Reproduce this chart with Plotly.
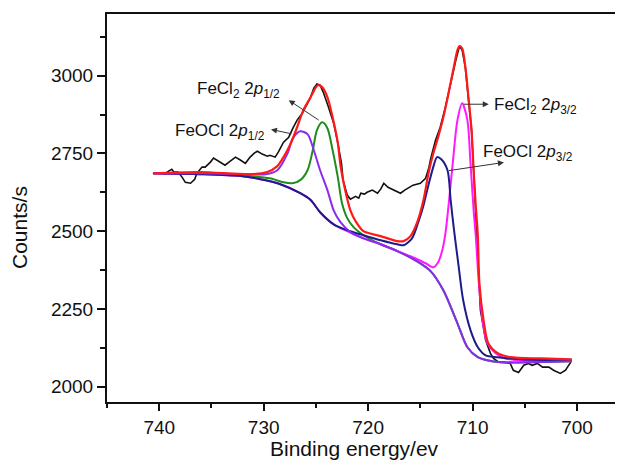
import plotly.graph_objects as go

# ---------------- data (binding energy in eV, counts/s) ----------------
exp_be = [740.6, 739.9, 739.4, 739.1, 738.8, 738.6, 738.2, 737.8, 737.5, 737.0, 736.6, 736.4,
          735.9, 735.6, 735.1, 734.8, 734.3, 733.7, 733.2, 732.7, 732.2, 731.75, 731.3, 730.9,
          730.6, 730.1, 729.65, 729.4, 728.9, 728.6, 728.1, 727.6, 727.2, 726.8, 726.3, 725.8,
          725.5, 725.2, 724.9, 724.6, 724.3, 723.8, 723.3, 722.9, 722.55, 722.4, 722.0, 721.7,
          721.2, 720.9, 720.7, 720.35, 720.1, 719.6, 719.1, 718.8, 718.5, 718.1, 717.6, 716.9,
          716.5, 716.2, 715.7, 715.0, 714.5, 714.2, 714.0, 713.55, 713.1, 712.6, 712.1, 711.6,
          711.25, 711.0, 710.7, 710.4, 710.1, 709.9, 709.7, 709.5, 709.25, 708.75, 708.3, 708.0,
          707.5, 707.0, 706.4, 706.1, 705.6, 705.1, 704.65, 704.3, 703.8, 703.3, 702.7, 702.25,
          701.6, 701.1, 700.6]
exp_counts = [2686, 2686, 2686, 2693, 2699, 2690, 2690, 2673, 2657, 2654, 2667, 2686,
              2706, 2706, 2722, 2735, 2725, 2712, 2725, 2738, 2728, 2718, 2738, 2751,
              2757, 2747, 2741, 2744, 2738, 2754, 2786, 2802, 2831, 2857, 2879, 2911,
              2931, 2960, 2973, 2969, 2947, 2899, 2847, 2783, 2718, 2664, 2616, 2603,
              2612, 2606, 2622, 2619, 2625, 2632, 2622, 2635, 2654, 2641, 2632, 2622,
              2632, 2638, 2648, 2654, 2670, 2702, 2735, 2792, 2834, 2899, 2976, 3050,
              3095, 3082, 3027, 2931, 2825, 2696, 2567, 2407, 2246, 2149, 2108, 2091,
              2079, 2079, 2075, 2053, 2046, 2069, 2075, 2069, 2075, 2063, 2063, 2053,
              2043, 2053, 2079]

env_be = [740.6, 736.1, 731.3, 729.65, 728.7, 728.1, 727.4, 726.8, 726.2, 725.5, 725.05, 724.8,
          724.4, 723.9, 723.4, 722.9, 722.65, 722.2, 721.7, 721.2, 720.45, 718.8, 717.2, 716.6,
          715.95, 715.3, 714.7, 714.2, 713.75, 713.3, 712.8, 712.3, 711.8, 711.45, 711.25, 711.0,
          710.7, 710.4, 710.1, 709.9, 709.7, 709.5, 709.35, 708.95, 708.5, 707.6, 706.4, 703.5, 700.5]
env_counts = [2686, 2690, 2683, 2690, 2709, 2738, 2783, 2834, 2889, 2931, 2960, 2969,
              2963, 2931, 2866, 2783, 2712, 2632, 2567, 2532, 2500, 2484, 2468, 2468,
              2484, 2529, 2600, 2690, 2751, 2802, 2866, 2944, 3027, 3082, 3095, 3088,
              3030, 2931, 2825, 2696, 2583, 2487, 2333, 2214, 2140, 2108, 2095, 2091, 2088]

feocl32_be = [740.6, 736.1, 732.2, 730.3, 728.4, 726.5, 725.5, 724.6, 723.3, 722.0, 720.45, 718.8,
              717.2, 716.6, 715.8, 715.2, 714.7, 714.3, 713.8, 713.4, 713.0, 712.4, 712.1, 711.8,
              711.35, 710.9, 710.2, 709.5, 708.75, 707.6, 705.4, 700.5]
feocl32_counts = [2686, 2683, 2677, 2667, 2651, 2622, 2600, 2561, 2522, 2503, 2487, 2471,
                  2458, 2455, 2477, 2529, 2583, 2638, 2702, 2738, 2731, 2696, 2600, 2510,
                  2391, 2278, 2182, 2127, 2101, 2095, 2088, 2085]

feocl12_be = [740.6, 736.1, 731.3, 729.8, 728.7, 727.7, 727.2, 726.5, 725.8, 725.2, 724.6, 723.9,
              723.3, 722.65, 721.7, 720.45, 718.8, 717.2, 715.3, 714.0, 712.8, 711.45, 710.5,
              709.5, 708.6, 707.3, 700.5]
feocl12_counts = [2686, 2686, 2683, 2683, 2696, 2751, 2799, 2821, 2812, 2760, 2696, 2632,
                  2567, 2529, 2497, 2477, 2458, 2436, 2403, 2371, 2310, 2204, 2127,
                  2095, 2085, 2079, 2082]

fecl12_be = [740.6, 736.1, 731.3, 729.4, 728.1, 727.25, 726.5, 725.8, 725.3, 724.9, 724.4, 723.9,
             723.4, 722.9, 722.5, 722.0, 721.4, 720.45, 718.8, 717.2, 715.3, 714.0, 712.8,
             711.45, 710.5, 709.5, 708.6, 707.3, 700.5]
fecl12_counts = [2686, 2686, 2677, 2670, 2657, 2654, 2664, 2696, 2760, 2825, 2850, 2831,
                 2760, 2673, 2590, 2542, 2513, 2487, 2458, 2436, 2403, 2371, 2310,
                 2204, 2127, 2095, 2085, 2079, 2082]

fecl32_be = [740.6, 736.1, 732.2, 730.3, 728.4, 726.5, 725.5, 724.6, 723.3, 722.0, 720.45, 718.8,
             717.2, 715.5, 714.5, 713.75, 713.3, 712.9, 712.6, 712.3, 711.9, 711.45, 711.0,
             710.5, 710.2, 709.9, 709.7, 709.4, 709.05, 708.6, 707.8, 706.85, 705.4, 700.5]
fecl32_counts = [2686, 2683, 2677, 2667, 2651, 2622, 2600, 2561, 2522, 2500, 2477, 2458,
                 2436, 2413, 2397, 2384, 2400, 2439, 2493, 2583, 2718, 2857, 2911,
                 2857, 2718, 2567, 2487, 2333, 2214, 2140, 2108, 2091, 2085, 2085]

x_tick_vals = [740, 730, 720, 710, 700]
x_tick_text = ["740", "730", "720", "710", "700"]
y_tick_vals = [2000, 2250, 2500, 2750, 3000]
y_tick_text = ["2000", "2250", "2500", "2750", "3000"]

FONT = "Arial, Liberation Sans, Helvetica, sans-serif"

fig = go.Figure()

fig.add_trace(go.Scatter(x=exp_be, y=exp_counts, mode="lines",
                         line=dict(color="#111111", width=1.6), name="Raw"))
fig.add_trace(go.Scatter(x=fecl12_be, y=fecl12_counts, mode="lines",
                         line=dict(color="#1E8C1E", width=2, shape="spline", smoothing=0.8),
                         name="FeCl2 2p1/2"))
fig.add_trace(go.Scatter(x=fecl32_be, y=fecl32_counts, mode="lines",
                         line=dict(color="#FF1AFF", width=2, shape="spline", smoothing=0.8),
                         name="FeCl2 2p3/2"))
fig.add_trace(go.Scatter(x=feocl32_be, y=feocl32_counts, mode="lines",
                         line=dict(color="#1C1C8C", width=2, shape="spline", smoothing=0.8),
                         name="FeOCl 2p3/2"))
fig.add_trace(go.Scatter(x=feocl12_be, y=feocl12_counts, mode="lines",
                         line=dict(color="#8C2BF0", width=2, shape="spline", smoothing=0.8),
                         name="FeOCl 2p1/2"))
fig.add_trace(go.Scatter(x=env_be, y=env_counts, mode="lines",
                         line=dict(color="#FF1A1A", width=2.2, shape="spline", smoothing=0.8),
                         name="Envelope"))

ann_font = dict(family=FONT, size=17, color="#111111")
arrow_kw = dict(showarrow=True, arrowhead=2, arrowsize=1.2, arrowwidth=1,
                arrowcolor="#333333", axref="x", ayref="y", text="", standoff=0, startstandoff=0)

annotations = [
    dict(x=728.2, y=2953, text="FeCl<sub>2</sub> 2<i>p</i><sub>1/2</sub>", showarrow=False,
         xanchor="right", yanchor="middle", font=ann_font),
    dict(x=729.65, y=2818, text="FeOCl 2<i>p</i><sub>1/2</sub>", showarrow=False,
         xanchor="right", yanchor="middle", font=ann_font),
    dict(x=708.1, y=2902, text="FeCl<sub>2</sub> 2<i>p</i><sub>3/2</sub>", showarrow=False,
         xanchor="left", yanchor="middle", font=ann_font),
    dict(x=709.24, y=2751, text="FeOCl 2<i>p</i><sub>3/2</sub>", showarrow=False,
         xanchor="left", yanchor="middle", font=ann_font),
    dict(x=727.6, y=2921, ax=724.6, ay=2854, **arrow_kw),
    dict(x=729.3, y=2827, ax=727.2, ay=2812, **arrow_kw),
    dict(x=708.45, y=2908, ax=711.0, ay=2908, **arrow_kw),
    dict(x=707.0, y=2721, ax=712.4, ay=2694, **arrow_kw),
    # axis titles
    dict(xref="paper", yref="paper", x=-0.1686, y=0.4485, text="Counts/s", textangle=-90,
         showarrow=False, xanchor="center", yanchor="middle",
         font=dict(family=FONT, size=21, color="#111111")),
    dict(xref="paper", yref="paper", x=0.4806, y=-0.1211, text="Binding energy/ev",
         showarrow=False, xanchor="center", yanchor="middle",
         font=dict(family=FONT, size=21, color="#111111")),
]

# the page body adds an 8px offset, so the figure is 8px smaller and margins compensate
fig.update_layout(
    width=615, height=457,
    margin=dict(l=99, r=0, t=6, b=63, autoexpand=False),
    paper_bgcolor="white", plot_bgcolor="white",
    showlegend=False,
    font=dict(family=FONT, size=19, color="#111111"),
    annotations=annotations,
)

fig.update_xaxes(
    range=[745, 695.6], showgrid=False, zeroline=False, automargin=False,
    showline=True, linecolor="#111111", linewidth=2, mirror=True,
    ticks="outside", ticklen=7, tickwidth=2, tickcolor="#111111",
    tickvals=x_tick_vals, ticktext=x_tick_text, tickfont=dict(size=19),
    minor=dict(ticks="outside", ticklen=4, tickwidth=2, tickcolor="#111111", dtick=5, tick0=700),
)
fig.update_yaxes(
    range=[1951, 3198], showgrid=False, zeroline=False, automargin=False,
    showline=True, linecolor="#111111", linewidth=2, mirror=False,
    ticks="outside", ticklen=8, tickwidth=2, tickcolor="#111111",
    tickvals=y_tick_vals, ticktext=y_tick_text, tickfont=dict(size=19),
    minor=dict(ticks="outside", ticklen=5, tickwidth=2, tickcolor="#111111", dtick=125, tick0=2000),
)

fig.write_html("out.html")
